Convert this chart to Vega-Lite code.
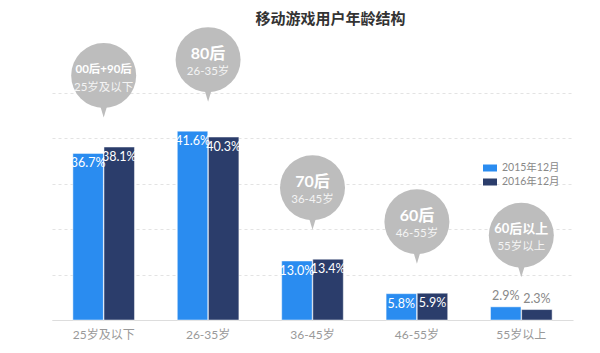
{
  "$schema": "https://vega.github.io/schema/vega-lite/v6.json",
  "autosize": "none",
  "width": 521,
  "height": 227,
  "padding": {"left": 52, "top": 93, "right": 27, "bottom": 33},
  "background": "white",
  "config": {"view": {"stroke": null}, "font": "Lato, Noto Sans CJK SC"},
  "title": {
    "text": "移动游戏用户年龄结构",
    "fontSize": 15,
    "fontWeight": "bold",
    "color": "#333333",
    "font": "Noto Sans CJK SC",
    "anchor": "middle",
    "dx": 18,
    "offset": 0
  },
  "datasets": {
    "bars": [
      {"age": "25岁及以下", "period": "2015年12月", "value": 36.7},
      {"age": "25岁及以下", "period": "2016年12月", "value": 38.1},
      {"age": "26-35岁", "period": "2015年12月", "value": 41.6},
      {"age": "26-35岁", "period": "2016年12月", "value": 40.3},
      {"age": "36-45岁", "period": "2015年12月", "value": 13.0},
      {"age": "36-45岁", "period": "2016年12月", "value": 13.4},
      {"age": "46-55岁", "period": "2015年12月", "value": 5.8},
      {"age": "46-55岁", "period": "2016年12月", "value": 5.9},
      {"age": "55岁以上", "period": "2015年12月", "value": 2.9},
      {"age": "55岁以上", "period": "2016年12月", "value": 2.3}
    ],
    "bubbles": [
      {"age": "25岁及以下", "line1": "00后+90后", "line2": "25岁及以下"},
      {"age": "26-35岁", "line1": "80后", "line2": "26-35岁"},
      {"age": "36-45岁", "line1": "70后", "line2": "36-45岁"},
      {"age": "46-55岁", "line1": "60后", "line2": "46-55岁"},
      {"age": "55岁以上", "line1": "60后以上", "line2": "55岁以上"}
    ]
  },
  "data": {"name": "bars"},
  "encoding": {
    "x": {
      "field": "age",
      "type": "nominal",
      "sort": ["25岁及以下", "26-35岁", "36-45岁", "46-55岁", "55岁以上"],
      "scale": {"paddingInner": 0.41, "paddingOuter": 0.2},
      "axis": {
        "title": null,
        "labelAngle": 0,
        "ticks": false,
        "domainColor": "#dddddd",
        "labelColor": "#999999",
        "labelFontSize": 12,
        "labelPadding": 9,
        "labelFont": "Lato, Noto Sans CJK SC"
      }
    }
  },
  "layer": [
    {
      "mark": {"type": "bar", "stroke": "#ffffff", "strokeWidth": 0.8, "strokeOpacity": 0.6},
      "encoding": {
        "xOffset": {"field": "period", "type": "nominal", "scale": {"paddingInner": 0.02}},
        "y": {
          "field": "value",
          "type": "quantitative",
          "scale": {"domain": [0, 50], "nice": false},
          "axis": {
            "title": null,
            "values": [0, 5, 10, 15, 20, 25, 30, 35, 40, 45, 50],
            "labels": false,
            "ticks": false,
            "domain": false,
            "grid": true,
            "gridColor": "#e3e3e3",
            "gridDash": [3, 3]
          }
        },
        "color": {
          "field": "period",
          "type": "nominal",
          "scale": {"domain": ["2015年12月", "2016年12月"], "range": ["#2a8cf0", "#2b3d6b"]},
          "legend": {
            "title": null,
            "orient": "none",
            "legendX": 431,
            "legendY": 68,
            "symbolType": "M-1,-0.5H1V0.5H-1Z",
            "symbolSize": 196,
            "symbolStrokeWidth": 0,
            "labelFontSize": 10.5,
            "labelColor": "#888888",
            "labelFont": "Lato, Noto Sans CJK SC",
            "labelOffset": 5,
            "rowPadding": 1
          }
        }
      }
    },
    {
      "transform": [
        {"filter": "datum.value >= 4"},
        {"calculate": "format(datum.value, '.1f') + '%'", "as": "label"}
      ],
      "mark": {"type": "text", "baseline": "top", "dy": 4, "color": "#ffffff", "fontSize": 12.5},
      "encoding": {
        "xOffset": {"field": "period", "type": "nominal"},
        "y": {"field": "value", "type": "quantitative"},
        "text": {"field": "label"}
      }
    },
    {
      "transform": [
        {"filter": "datum.value < 4"},
        {"calculate": "format(datum.value, '.1f') + '%'", "as": "label"}
      ],
      "mark": {"type": "text", "baseline": "bottom", "dy": -4, "color": "#888888", "fontSize": 12.5},
      "encoding": {
        "xOffset": {"field": "period", "type": "nominal"},
        "y": {"field": "value", "type": "quantitative"},
        "text": {"field": "label"}
      }
    },
    {
      "transform": [
        {"aggregate": [{"op": "max", "field": "value", "as": "top"}], "groupby": ["age"]},
        {"calculate": "datum.top + 6.5", "as": "tip"}
      ],
      "mark": {"type": "point", "shape": "M-0.6,-1L0.6,-1L0,1Z", "size": 576, "filled": true, "color": "#bdbdbd", "opacity": 1, "yOffset": -12},
      "encoding": {
        "y": {"field": "tip", "type": "quantitative"}
      }
    },
    {
      "transform": [
        {"aggregate": [{"op": "max", "field": "value", "as": "top"}], "groupby": ["age"]},
        {"calculate": "datum.top + 6.5", "as": "tip"}
      ],
      "mark": {"type": "point", "shape": "circle", "size": 4225, "filled": true, "color": "#bdbdbd", "opacity": 1, "yOffset": -42},
      "encoding": {
        "y": {"field": "tip", "type": "quantitative"}
      }
    },
    {
      "transform": [
        {"aggregate": [{"op": "max", "field": "value", "as": "top"}], "groupby": ["age"]},
        {"calculate": "datum.top + 6.5", "as": "tip"},
        {"lookup": "age", "from": {"data": {"name": "bubbles"}, "key": "age", "fields": ["line1", "line2"]}}
      ],
      "mark": {"type": "text", "fontWeight": "bold", "color": "#ffffff", "baseline": "middle", "yOffset": -48},
      "encoding": {
        "y": {"field": "tip", "type": "quantitative"},
        "text": {"field": "line1"},
        "size": {
          "condition": [
            {"test": "length(datum.line1) >= 6", "value": 11.5},
            {"test": "length(datum.line1) == 5", "value": 13}
          ],
          "value": 16
        }
      }
    },
    {
      "transform": [
        {"aggregate": [{"op": "max", "field": "value", "as": "top"}], "groupby": ["age"]},
        {"calculate": "datum.top + 6.5", "as": "tip"},
        {"lookup": "age", "from": {"data": {"name": "bubbles"}, "key": "age", "fields": ["line1", "line2"]}}
      ],
      "mark": {"type": "text", "color": "#f4f4f4", "baseline": "middle", "fontSize": 11.5, "yOffset": -30},
      "encoding": {
        "y": {"field": "tip", "type": "quantitative"},
        "text": {"field": "line2"}
      }
    }
  ]
}
